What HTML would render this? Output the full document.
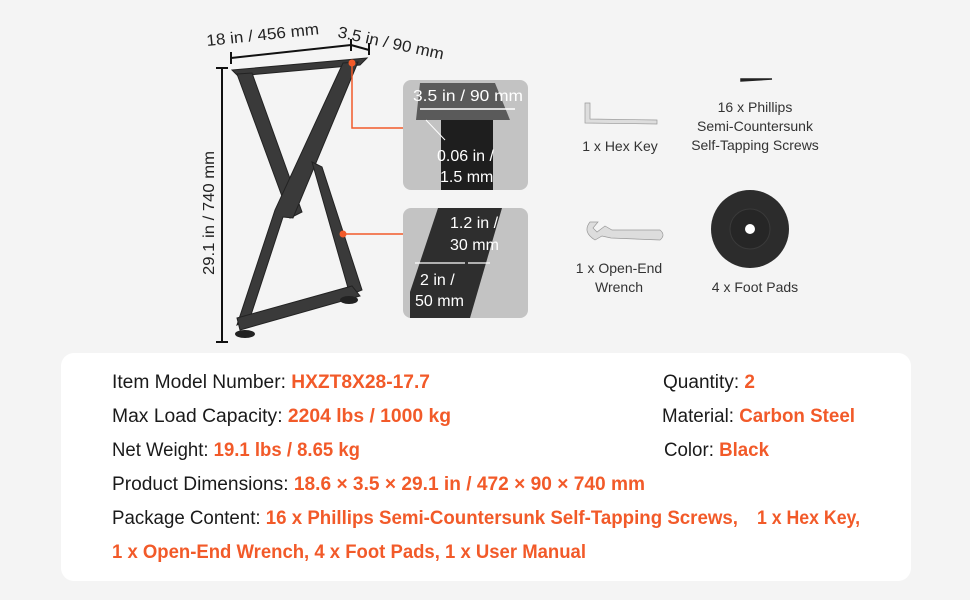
<!DOCTYPE html>
<html><head><meta charset="utf-8"><style>
html,body{margin:0;padding:0;background:#f4f4f4;}
svg{display:block;font-family:"Liberation Sans",sans-serif;}
</style></head><body>
<svg width="970" height="600" viewBox="0 0 970 600" xmlns="http://www.w3.org/2000/svg">
<rect width="970" height="600" fill="#f4f4f4"/>
<g stroke="#111" stroke-width="2" fill="none">
<line x1="222" y1="68" x2="222" y2="342"/>
<line x1="216" y1="68" x2="228" y2="68"/>
<line x1="216" y1="342" x2="228" y2="342"/>
<line x1="231" y1="58" x2="351" y2="45"/>
<line x1="231" y1="52" x2="231" y2="64"/>
<line x1="351" y1="39" x2="351" y2="51"/>
<line x1="351" y1="45" x2="369" y2="50"/>
<line x1="369" y1="43" x2="369" y2="55"/>
</g>
<text x="207" y="46" font-size="16" fill="#222" transform="rotate(-6 207 46)" textLength="113" lengthAdjust="spacingAndGlyphs">18 in / 456 mm</text>
<text x="337" y="37" font-size="16" fill="#222" transform="rotate(12 337 37)" textLength="108" lengthAdjust="spacingAndGlyphs">3.5 in / 90 mm</text>
<text x="0" y="0" font-size="16" fill="#222" transform="translate(214 275) rotate(-90)" textLength="124" lengthAdjust="spacingAndGlyphs">29.1 in / 740 mm</text>
<g fill="#3a3a3a" stroke="#222" stroke-width="1">
<polygon points="232,70 367,58 360,65 238,76"/>
<polygon points="237,74 252,73 302,212 290,218"/>
<polygon points="343,63 358,62 293,218 283,217 250,318 237,325 275,210"/>
<polygon points="312,162 322,167 362,290 350,295"/>
<polygon points="237,318 352,286 360,296 240,330"/>
</g>
<ellipse cx="245" cy="334" rx="10" ry="4" fill="#222"/>
<ellipse cx="349" cy="300" rx="9" ry="4" fill="#222"/>
<g stroke="#f25a29" stroke-width="1.5" fill="none">
<polyline points="352,63 352,128 403,128"/>
<line x1="343" y1="234" x2="403" y2="234"/>
</g>
<circle cx="352" cy="63" r="3.5" fill="#f25a29"/>
<circle cx="343" cy="234" r="3.5" fill="#f25a29"/>
<rect x="403" y="80" width="125" height="110" rx="8" fill="#c3c3c3"/>
<polygon points="420,83 495,83 510,120 416,120" fill="#5a5a5a"/>
<rect x="441" y="120" width="52" height="70" fill="#1e1e1e"/>
<line x1="420" y1="109" x2="515" y2="109" stroke="#fff" stroke-width="1.5"/>
<line x1="426" y1="120" x2="445" y2="140" stroke="#fff" stroke-width="1"/>
<text x="413" y="101" font-size="16" fill="#fff" textLength="110" lengthAdjust="spacingAndGlyphs">3.5 in / 90 mm</text>
<text x="437" y="161" font-size="16" fill="#fff">0.06 in /</text>
<text x="440" y="182" font-size="16" fill="#fff">1.5 mm</text>
<rect x="403" y="208" width="125" height="110" rx="8" fill="#c3c3c3"/>
<polygon points="438,208 502,208 470,318 410,318 410,292" fill="#2e2e2e"/>
<line x1="415" y1="263" x2="465" y2="263" stroke="#fff" stroke-width="1.3"/>
<line x1="468" y1="263" x2="490" y2="263" stroke="#fff" stroke-width="1.3"/>
<text x="450" y="228" font-size="16" fill="#fff">1.2 in /</text>
<text x="450" y="250" font-size="16" fill="#fff">30 mm</text>
<text x="420" y="285" font-size="16" fill="#fff">2 in /</text>
<text x="415" y="306" font-size="16" fill="#fff">50 mm</text>
<path d="M585,103 L585,123 L657,124 L657,120 L590,119 L590,103 Z" fill="#ddd" stroke="#999" stroke-width="0.7"/>
<path d="M741,79 L772,79 L741,81 Z" fill="#222" stroke="#222" stroke-width="1.5"/>
<text x="620" y="151" font-size="14" fill="#333" text-anchor="middle">1 x Hex Key</text>
<text x="755" y="112" font-size="14" fill="#333" text-anchor="middle">16 x Phillips</text>
<text x="755" y="131" font-size="14" fill="#333" text-anchor="middle">Semi-Countersunk</text>
<text x="755" y="150" font-size="14" fill="#333" text-anchor="middle">Self-Tapping Screws</text>
<path d="M590,222 Q582,232 595,240 L602,236 L611,238 L660,240 Q666,235 660,230 L612,230 L605,226 L597,232 L593,228 L598,222 Z" fill="#ddd" stroke="#999" stroke-width="0.7"/>
<circle cx="750" cy="229" r="39" fill="#2c2c2c"/>
<circle cx="750" cy="229" r="20" fill="#262626" stroke="#3a3a3a"/>
<circle cx="750" cy="229" r="5" fill="#fff"/>
<text x="619" y="273" font-size="14" fill="#333" text-anchor="middle">1 x Open-End</text>
<text x="619" y="292" font-size="14" fill="#333" text-anchor="middle">Wrench</text>
<text x="755" y="292" font-size="14" fill="#333" text-anchor="middle">4 x Foot Pads</text>
<rect x="61" y="353" width="850" height="228" rx="13" fill="#fff"/>
<g font-size="19" fill="#1a1a1a">
<text x="112" y="388" textLength="318" lengthAdjust="spacingAndGlyphs">Item Model Number: <tspan fill="#f25a29" font-weight="bold">HXZT8X28-17.7</tspan></text>
<text x="112" y="422" textLength="339" lengthAdjust="spacingAndGlyphs">Max Load Capacity: <tspan fill="#f25a29" font-weight="bold">2204 lbs / 1000 kg</tspan></text>
<text x="112" y="456" textLength="248" lengthAdjust="spacingAndGlyphs">Net Weight: <tspan fill="#f25a29" font-weight="bold">19.1 lbs / 8.65 kg</tspan></text>
<text x="112" y="490" textLength="533" lengthAdjust="spacingAndGlyphs">Product Dimensions: <tspan fill="#f25a29" font-weight="bold">18.6 × 3.5 × 29.1 in / 472 × 90 × 740 mm</tspan></text>
<text x="112" y="524" textLength="626" lengthAdjust="spacingAndGlyphs">Package Content: <tspan fill="#f25a29" font-weight="bold">16 x Phillips Semi-Countersunk Self-Tapping Screws,</tspan></text>
<text x="757" y="524" textLength="103" lengthAdjust="spacingAndGlyphs" fill="#f25a29" font-weight="bold">1 x Hex Key,</text>
<text x="112" y="558" textLength="474" lengthAdjust="spacingAndGlyphs" fill="#f25a29" font-weight="bold">1 x Open-End Wrench, 4 x Foot Pads, 1 x User Manual</text>
<text x="663" y="388" textLength="92" lengthAdjust="spacingAndGlyphs">Quantity: <tspan fill="#f25a29" font-weight="bold">2</tspan></text>
<text x="662" y="422" textLength="193" lengthAdjust="spacingAndGlyphs">Material: <tspan fill="#f25a29" font-weight="bold">Carbon Steel</tspan></text>
<text x="664" y="456" textLength="105" lengthAdjust="spacingAndGlyphs">Color: <tspan fill="#f25a29" font-weight="bold">Black</tspan></text>
</g>
</svg>
</body></html>
